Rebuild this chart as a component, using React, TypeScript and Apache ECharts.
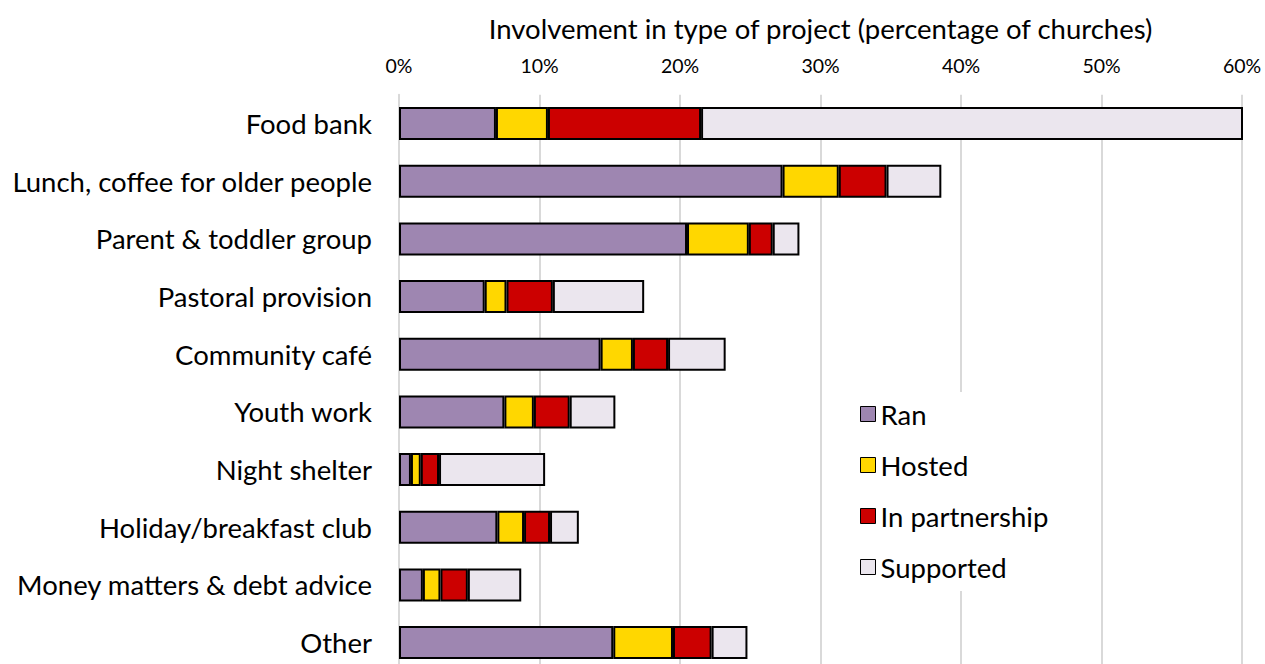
import React, { useEffect, useRef } from "react";
import * as echarts from "echarts";

const categories = [
  "Food bank",
  "Lunch, coffee for older people",
  "Parent & toddler group",
  "Pastoral provision",
  "Community café",
  "Youth work",
  "Night shelter",
  "Holiday/breakfast club",
  "Money matters & debt advice",
  "Other",
];
const ran = [6.9, 27.3, 20.5, 6.1, 14.35, 7.5, 0.85, 7.0, 1.7, 15.25];
const hosted = [3.7, 4.0, 4.4, 1.55, 2.3, 2.1, 0.7, 1.9, 1.25, 4.25];
const partnership = [10.9, 3.4, 1.7, 3.3, 2.5, 2.55, 1.3, 1.85, 1.95, 2.75];
const supported = [38.6, 3.9, 1.9, 6.5, 4.1, 3.25, 7.55, 2.05, 3.8, 2.55];
const seriesNames = ["Ran", "Hosted", "In partnership", "Supported"];
const seriesColors = ["#9E86B1", "#FFD700", "#CC0000", "#EBE6EE"];
const xTicks = { min: 0, max: 60, interval: 10 };

const FONT = "Lato";

export default function App() {
  const ref = useRef<HTMLDivElement>(null);
  useEffect(() => {
    if (!ref.current) return;
    const chart = echarts.init(ref.current, null, { renderer: "svg" });
    const values = [ran, hosted, partnership, supported];
    chart.setOption({
      animation: false,
      backgroundColor: "#fff",
      textStyle: { fontFamily: FONT },
      grid: { left: 399, right: 23, top: 94.7, bottom: 28.6 },
      legend: {
        orient: "vertical",
        left: 846,
        top: 392,
        padding: [8, 14, 10, 14],
        backgroundColor: "#fff",
        itemWidth: 15,
        itemHeight: 15,
        itemGap: 23,
        icon: "rect",
        itemStyle: { borderColor: "#000", borderWidth: 1 },
        textStyle: {
          fontSize: 27.5,
          lineHeight: 28,
          color: "#000",
          fontFamily: FONT,
          padding: [0, 0, 0, 0],
        },
        data: seriesNames,
      },
      xAxis: {
        type: "value",
        position: "top",
        min: xTicks.min,
        max: xTicks.max,
        interval: xTicks.interval,
        name: "Involvement in type of project (percentage of churches)",
        nameLocation: "middle",
        nameGap: 52,
        nameTextStyle: { fontSize: 27.5, color: "#000", fontFamily: FONT },
        axisLine: { show: false },
        axisTick: { show: false },
        axisLabel: {
          formatter: "{value}%",
          fontSize: 19.5,
          color: "#000",
          margin: 19,
          fontFamily: FONT,
        },
        splitLine: { show: true, lineStyle: { color: "#d9d9d9", width: 2 } },
      },
      yAxis: {
        type: "category",
        inverse: true,
        data: categories,
        axisLine: { show: true, lineStyle: { color: "#d9d9d9", width: 2 } },
        axisTick: { show: false },
        axisLabel: { fontSize: 27.5, color: "#000", margin: 27, fontFamily: FONT },
      },
      series: seriesNames.map((name, i) => ({
        name,
        type: "bar",
        stack: "total",
        barWidth: 33,
        data: values[i],
        itemStyle: { color: seriesColors[i], borderColor: "#000", borderWidth: 2 },
        emphasis: { disabled: true },
      })),
    });
    return () => chart.dispose();
  }, []);
  return (
    <div
      ref={ref}
      style={{ position: "absolute", left: 0, top: 0, width: 1265, height: 700 }}
    />
  );
}
